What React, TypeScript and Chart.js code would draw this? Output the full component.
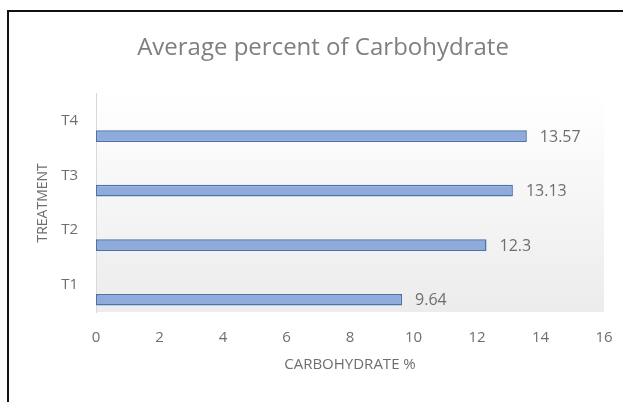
import React, { useEffect, useRef } from "react";
import { Chart, registerables } from "chart.js";

Chart.register(...registerables);

const categories = ["T4", "T3", "T2", "T1"];
const carbohydrateValues = [13.57, 13.13, 12.3, 9.64];
const spacerValues = [null, null, null, null];
const xTickMin = 0;
const xTickMax = 16;
const xTickStep = 2;

const chartTitle = "Average percent of Carbohydrate";
const xAxisTitle = "CARBOHYDRATE %";
const yAxisTitle = "TREATMENT";

const FONT = "'Open Sans', sans-serif";

const framePlugin = {
  id: "frame",
  beforeDraw(chart: any) {
    const { ctx, chartArea } = chart;
    ctx.save();
    ctx.fillStyle = "#ffffff";
    ctx.fillRect(0, 0, chart.width, chart.height);
    const g = ctx.createLinearGradient(0, chartArea.top, 0, chartArea.bottom);
    g.addColorStop(0, "#ffffff");
    g.addColorStop(1, "#ececec");
    ctx.fillStyle = g;
    ctx.fillRect(chartArea.left, chartArea.top, chartArea.right - chartArea.left, chartArea.bottom - chartArea.top);
    ctx.fillStyle = "#111111";
    ctx.fillRect(7, 10, 2, chart.height - 10);
    ctx.fillRect(7, 10, chart.width - 7, 2);
    ctx.restore();
  },
};

const valueLabelPlugin = {
  id: "valueLabels",
  afterDatasetsDraw(chart: any) {
    const { ctx } = chart;
    const meta = chart.getDatasetMeta(1);
    ctx.save();
    ctx.font = `16px ${FONT}`;
    ctx.fillStyle = "#6e6e6e";
    ctx.textAlign = "left";
    ctx.textBaseline = "middle";
    meta.data.forEach((bar: any, i: number) => {
      const v = chart.data.datasets[1].data[i];
      if (v == null) return;
      ctx.fillText(String(v), bar.x + 13, bar.y + 1);
    });
    ctx.restore();
  },
};

export default function App() {
  const ref = useRef<HTMLCanvasElement | null>(null);
  useEffect(() => {
    if (!ref.current) return;
    const chart = new Chart(ref.current, {
      type: "bar",
      data: {
        labels: categories,
        datasets: [
          {
            label: "spacer",
            data: spacerValues,
            backgroundColor: "rgba(0,0,0,0)",
          },
          {
            label: "Carbohydrate",
            data: carbohydrateValues,
            backgroundColor: "#8eabdb",
            borderColor: "#4a72ad",
            borderWidth: 1.5,
            borderSkipped: false,
          },
        ],
      },
      options: {
        indexAxis: "y",
        responsive: false,
        animation: false,
        categoryPercentage: 1.1,
        barPercentage: 0.39,
        layout: { padding: { left: 36, right: 13, top: 0, bottom: 0 } },
        plugins: {
          legend: { display: false },
          tooltip: { enabled: false },
          title: {
            display: true,
            text: chartTitle,
            color: "#7f7f7f",
            font: { family: FONT, size: 24, weight: "normal" },
            padding: { top: 34, bottom: 31 },
          },
        },
        scales: {
          x: {
            min: xTickMin,
            max: xTickMax,
            ticks: {
              stepSize: xTickStep,
              color: "#6e6e6e",
              font: { family: FONT, size: 15 },
              padding: 17,
            },
            grid: { display: false, drawTicks: false },
            border: { display: false },
            title: {
              display: true,
              text: xAxisTitle,
              color: "#6e6e6e",
              font: { family: FONT, size: 15 },
              padding: { top: 0, bottom: 28 },
            },
            afterFit(scale: any) {
              scale.height = 90;
              scale.paddingRight = 19;
              scale.paddingLeft = 0;
            },
          },
          y: {
            ticks: {
              color: "#6e6e6e",
              font: { family: FONT, size: 15 },
              padding: 18,
            },
            grid: { display: false, drawTicks: false },
            border: { display: true, color: "#d9d9d9", width: 1 },
            title: {
              display: true,
              text: yAxisTitle,
              color: "#6e6e6e",
              font: { family: FONT, size: 14 },
              padding: { top: -1.5, bottom: 0 },
            },
            afterFit(scale: any) {
              scale.width = 60;
            },
          },
        },
      },
      plugins: [framePlugin, valueLabelPlugin],
    });
    return () => chart.destroy();
  }, []);
  return (
    <div style={{ position: "fixed", left: 0, top: 0, width: 623, height: 402 }}>
      <canvas ref={ref} width={623} height={402} style={{ display: "block" }} />
    </div>
  );
}
